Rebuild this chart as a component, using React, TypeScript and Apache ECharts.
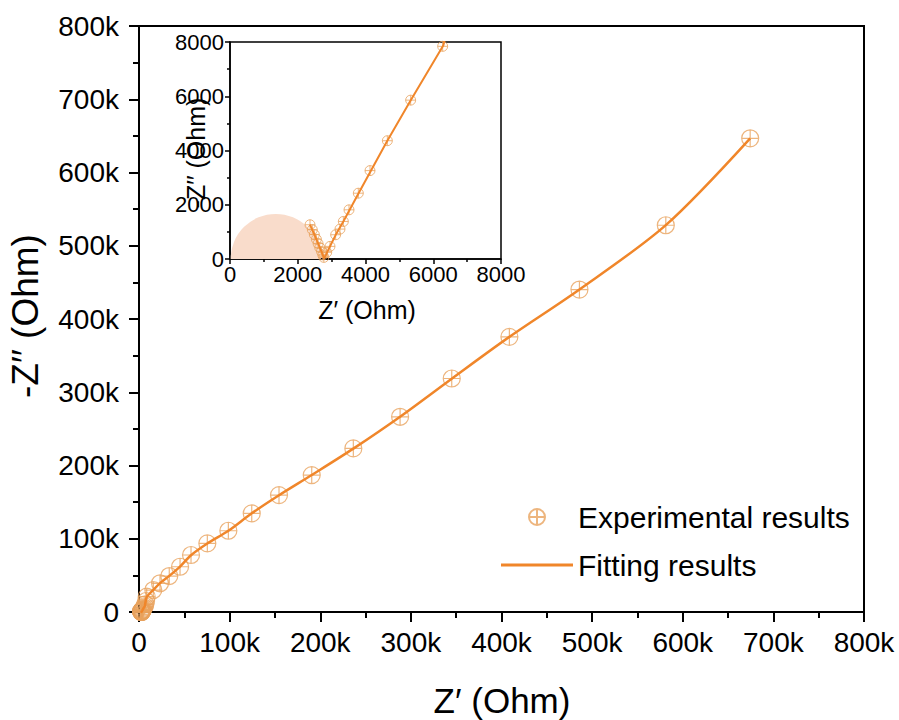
import React, { useEffect, useRef } from "react";
import * as echarts from "echarts";

// Impedance spectrum: Z' (real) and -Z'' (imaginary) in Ohm
const expRe = [
  2362, 2430, 2490, 2550, 2600, 2650, 2700, 2740, 2770, 2854, 2952, 3119, 3247,
  3346, 3513, 3788, 4133, 4645, 5333, 6278, 7000, 7800, 8500, 15800, 23200,
  33400, 45300, 57400, 75400, 98600, 124400, 154500, 190600, 236500, 288100,
  345100, 408700, 486000, 581300, 674400,
];
const expIm = [
  1262, 1080, 900, 730, 570, 420, 280, 150, 60, 245, 465, 894, 1103, 1384,
  1813, 2426, 3259, 4361, 5856, 7840, 10500, 15000, 20900, 30000, 39200, 49100,
  61800, 77800, 93700, 110900, 134600, 159600, 186900, 223300, 266500, 318800,
  375600, 440200, 528000, 646700,
];

// Equivalent-circuit fit
const fitRe = [
  2360, 2500, 2640, 2740, 2775, 2830, 2950, 3120, 3350, 3800, 4640, 5340, 6300,
  8600, 15800, 23200, 33400, 45300, 57400, 75400, 98600, 124400, 154500,
  190600, 236500, 288100, 345100, 408700, 486000, 581300, 674400,
];
const fitIm = [
  1270, 880, 460, 150, 20, 150, 460, 890, 1390, 2430, 4350, 5860, 7880, 20500,
  30200, 39500, 49300, 62000, 77500, 93500, 110800, 134700, 159400, 187000,
  223000, 266600, 318500, 375600, 440300, 528200, 646700,
];

// High-frequency semicircle highlight (centre and radius on Z')
const arcCenter = 1350;
const arcRadius = 1330;

const mainTicks = { min: 0, max: 800000, interval: 100000 };
const insetTicks = { min: 0, max: 8000, interval: 2000 };

const FONT = "'Liberation Sans', Arial, sans-serif";
const LINE = "#f0862a";
const MARK = "#e9a35e";
const SYMBOL =
  "path://M10,0A10,10,0,1,1,-10,0A10,10,0,1,1,10,0ZM0,-10L0,10M-10,0L10,0";

const kFmt = (v: number) => (v === 0 ? "0" : `${v / 1000}k`);
const plainFmt = (v: number) => String(v);

export default function App() {
  const ref = useRef<HTMLDivElement>(null);

  useEffect(() => {
    if (!ref.current) return;
    const chart = echarts.init(ref.current, null, { renderer: "svg" });

    const expPts = expRe.map((x, i) => [x, expIm[i]]);
    const fitPts = fitRe.map((x, i) => [x, fitIm[i]]);

    const mainAxis = (labelMargin: number) => ({
      type: "value" as const,
      ...mainTicks,
      axisLine: { onZero: false, lineStyle: { color: "#000", width: 2 } },
      axisTick: { inside: false, length: 10, lineStyle: { color: "#000", width: 2 } },
      minorTick: { show: true, splitNumber: 2, length: 6, lineStyle: { color: "#000", width: 2 } },
      splitLine: { show: false },
      axisLabel: { fontSize: 28, color: "#000", margin: labelMargin, fontFamily: FONT, formatter: kFmt },
    });

    const insetAxis = (labelMargin: number) => ({
      type: "value" as const,
      ...insetTicks,
      gridIndex: 1,
      axisLine: { onZero: false, lineStyle: { color: "#000", width: 1.5 } },
      axisTick: { inside: false, length: 5, lineStyle: { color: "#000", width: 1.5 } },
      minorTick: { show: true, splitNumber: 2, length: 3, lineStyle: { color: "#000", width: 1.5 } },
      splitLine: { show: false },
      axisLabel: { fontSize: 22, color: "#000", margin: labelMargin, fontFamily: FONT, formatter: plainFmt },
    });

    chart.setOption({
      animation: false,
      textStyle: { fontFamily: FONT },
      grid: [
        { left: 139, top: 26, width: 725, height: 586, show: true, borderColor: "#000", borderWidth: 2, backgroundColor: "transparent" },
        { left: 230, top: 42, width: 271, height: 217, show: true, borderColor: "#000", borderWidth: 1.5, backgroundColor: "#fff" },
      ],
      xAxis: [
        { ...mainAxis(16), gridIndex: 0 },
        insetAxis(4),
      ],
      yAxis: [
        { ...mainAxis(20), gridIndex: 0 },
        insetAxis(6),
      ],
      legend: {
        orient: "vertical",
        left: 496,
        top: 497,
        itemWidth: 72,
        itemHeight: 16,
        itemGap: 18,
        selectedMode: false,
        textStyle: { fontSize: 30, color: "#000", fontFamily: FONT },
        data: [
          { name: "Experimental results" },
          { name: "Fitting results", icon: "path://M0,0L72,0L72,3L0,3Z", itemStyle: { color: LINE } },
        ],
      },
      graphic: [
        { type: "text", x: 502, y: 700, style: { text: "Z′ (Ohm)", fontSize: 35, fontFamily: FONT, fill: "#000", align: "center", verticalAlign: "middle" } },
        { type: "text", x: 25, y: 316, rotation: Math.PI / 2, style: { text: "-Z′′ (Ohm)", fontSize: 37, fontFamily: FONT, fill: "#000", align: "center", verticalAlign: "middle" } },
        { type: "text", x: 367, y: 310, style: { text: "Z′ (Ohm)", fontSize: 25, fontFamily: FONT, fill: "#000", align: "center", verticalAlign: "middle" } },
        { type: "text", x: 196, y: 153, rotation: Math.PI / 2, style: { text: "-Z′′ (Ohm)", fontSize: 25, fontFamily: FONT, fill: "#000", align: "center", verticalAlign: "middle" } },
      ],
      series: [
        {
          type: "custom",
          xAxisIndex: 1,
          yAxisIndex: 1,
          silent: true,
          z: 1,
          data: [[arcCenter, arcRadius]],
          renderItem: (_params: any, api: any) => {
            const c = api.coord([api.value(0), 0]);
            const r = api.size([api.value(1), 0])[0];
            return {
              type: "sector",
              shape: { cx: c[0], cy: c[1], r0: 0, r, startAngle: Math.PI, endAngle: Math.PI * 2, clockwise: true },
              style: { fill: "#f9dccb" },
            };
          },
        },
        {
          name: "Experimental results",
          type: "scatter",
          xAxisIndex: 0,
          yAxisIndex: 0,
          symbol: SYMBOL,
          symbolSize: 17,
          itemStyle: { color: "rgba(0,0,0,0)", borderColor: MARK, borderWidth: 1.2 },
          data: expPts,
          z: 3,
        },
        {
          name: "Fitting results",
          type: "line",
          xAxisIndex: 0,
          yAxisIndex: 0,
          symbol: "none",
          smooth: 0.3,
          lineStyle: { color: LINE, width: 2.5 },
          itemStyle: { color: LINE },
          data: fitPts,
          z: 4,
        },
        {
          name: "Experimental results",
          type: "scatter",
          xAxisIndex: 1,
          yAxisIndex: 1,
          symbol: SYMBOL,
          symbolSize: 10,
          itemStyle: { color: "rgba(0,0,0,0)", borderColor: MARK, borderWidth: 1 },
          data: expPts,
          z: 3,
        },
        {
          name: "Fitting results",
          type: "line",
          xAxisIndex: 1,
          yAxisIndex: 1,
          symbol: "none",
          lineStyle: { color: LINE, width: 2 },
          itemStyle: { color: LINE },
          data: fitPts,
          z: 4,
        },
      ],
    });

    return () => chart.dispose();
  }, []);

  return <div ref={ref} style={{ width: 899, height: 720, position: "absolute", left: 0, top: 0, background: "#fff" }} />;
}
